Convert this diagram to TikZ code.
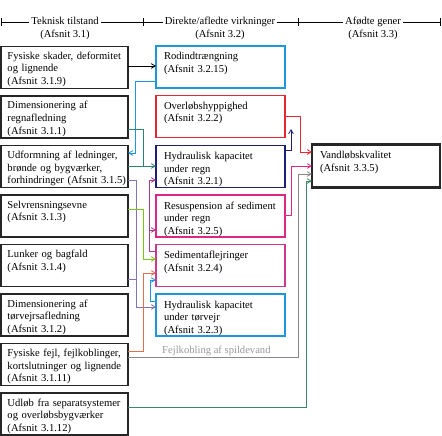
\documentclass[tikz,border=0pt]{standalone}
\usepackage{fontspec}
\setmainfont{Liberation Serif}
\usepackage{xcolor}
\usepackage{tikz}
\usetikzlibrary{arrows}

\definecolor{rodblue}{RGB}{30,150,220}
\definecolor{ovlred}{RGB}{230,40,50}
\definecolor{hydnavy}{RGB}{30,30,120}
\definecolor{respink}{RGB}{220,40,130}
\definecolor{sedpink}{RGB}{205,55,140}
\definecolor{sedpurple}{RGB}{170,60,140}
\definecolor{udfteal}{RGB}{45,130,110}
\definecolor{udlteal}{RGB}{60,135,105}
\definecolor{selvgreen}{RGB}{120,200,20}
\definecolor{fejlorange}{RGB}{225,110,80}
\definecolor{fejlgray}{RGB}{135,135,135}
\definecolor{lunkpurple}{RGB}{135,115,180}

\tikzset{
  tbox/.style={draw=black!85, line width=1.2pt, anchor=north west, outer sep=0pt,
    text width=114, inner xsep=6.5, inner ysep=4, align=left, text height=9, text depth=25},
  vkbox/.style={tbox, line width=1.2pt, text width=113, inner xsep=8, inner ysep=5,
    text height=9, text depth=23},
  head/.style={fill=white, align=center, anchor=base, inner xsep=2, inner ysep=1},
}

\begin{document}
\begin{tikzpicture}[x=1pt, y=-1pt, font=\fontsize{10.6}{12.5}\selectfont, >=angle 60]
		\useasboundingbox (0,0) rectangle (442,436);
		%
		\draw[line width=.6pt] (1,22) -- (440,22);
		\foreach \x in {1,143,298,440} \draw[line width=.6pt] (\x,18) -- (\x,26);
		\node[head] (H1) at (65,37.5) {Teknisk tilstand\\(Afsnit 3.1)};
		\node[head] (H2) at (220,37.5) {Direkte/afledte virkninger\\(Afsnit 3.2)};
		\node[head] (H3) at (373,37.5) {Afødte gener\\(Afsnit 3.3)};
		%
		\node[tbox] (T1) at (1,46.5) {Fysiske skader, deformitet\\og lignende\\(Afsnit 3.1.9)};
		\node[tbox] (T2) at (1,96) {Dimensionering af\\regnafledning\\(Afsnit 3.1.1)};
		\node[tbox] (T3) at (1,145.5) {Udformning af ledninger,\\brønde og bygværker,\\\mbox{forhindringer (Afsnit 3.1.5)}};
		\node[tbox] (T4) at (1,195) {Selvrensningsevne\\(Afsnit 3.1.3)};
		\node[tbox] (T5) at (1,244.5) {Lunker og bagfald\\(Afsnit 3.1.4)};
		\node[tbox] (T6) at (1,294) {Dimensionering af\\tørvejrsafledning\\(Afsnit 3.1.2)};
		\node[tbox] (T7) at (1,343.5) {Fysiske fejl, fejlkoblinger,\\kortslutninger og lignende\\(Afsnit 3.1.11)};
		\node[tbox] (T8) at (1,393) {Udløb fra separatsystemer\\og overløbsbygværker\\(Afsnit 3.1.12)};
		%
		\node[vkbox, draw=rodblue] (V1) at (156,46) {Rodindtrængning\\(Afsnit 3.2.15)};
		\node[vkbox, draw=ovlred] (V2) at (156,95.5) {Overløbshyppighed\\(Afsnit 3.2.2)};
		\node[vkbox, draw=hydnavy] (V3) at (156,145.5) {Hydraulisk kapacitet\\under regn\\(Afsnit 3.2.1)};
		\node[vkbox, draw=respink] (V4) at (156,195) {Resuspension af sediment\\under regn\\(Afsnit 3.2.5)};
		\node[vkbox, draw=sedpink] (V5) at (156,244.5) {Sedimentaflejringer\\(Afsnit 3.2.4)};
		\node[vkbox, draw=rodblue] (V6) at (156,294) {Hydraulisk kapacitet\\under tørvejr\\(Afsnit 3.2.3)};
		%
		\node[tbox, line width=2.5pt, text width=112, inner xsep=8, inner ysep=6,
		  text height=8, text depth=23] (G) at (312,144.5) {Vandløbskvalitet\\(Afsnit 3.3.5)};
		%
		\coordinate (V2a) at (291,129);
		\coordinate (S1) at (149,230);
		%
		\begin{scope}[line width=.8pt]
		\draw[->] (T1.east |- 0,66) -- (V1.west |- 0,66);
		\draw[->, rodblue] (V1.west |- 0,81) -| (135,153) -- (T3.east |- 0,153);
		\draw[->, udfteal] (T2.east |- 0,129) -| (143,166) -- (V3.west |- 0,166);
		\draw[udfteal] (T3.east |- 0,166) -- ++(15,0);
		\draw[->, lunkpurple] (T3.east |- 0,180) -| (136,307) -- (V6.west |- 0,307);
		\draw[lunkpurple] (T5.east |- 0,279) -- ++(8,0);
		\draw[->, selvgreen] (T4.east |- 0,209) -| (143,259) -- (V5.west |- 0,259);
		\draw[->, fejlorange] (T7.east |- 0,351) -| (143,273) -- (V5.west |- 0,273);
		\draw[->, sedpurple] (V5.west |- 0,251) -| (149,180) -- (V3.west |- 0,180);
		\draw[->, sedpurple] (S1) -- (V4.west |- 0,230);
		\draw[->, rodblue] (V6.west |- 0,301) -| (150,280) -- (V5.west |- 0,280);
		\draw[->, hydnavy] (V3.east |- 0,150) -| (V2a);
		\draw[->, ovlred] (V2.east |- 0,116) -| (300,152) -- (G.west |- 0,152);
		\draw[->, respink] (V4.east |- 0,215) -| (291,166) -- (G.west |- 0,166);
		\draw[->, fejlgray] (T7.east |- 0,357) -- node[above, inner sep=1pt, pos=.52, text=black!40]
		  {Fejlkobling af spildevand} (298,357) |- (G.west |- 0,174);
		\draw[->, udlteal] (T8.east |- 0,407) -| (306,181) -- (G.west |- 0,181);
		\end{scope}
\end{tikzpicture}
\end{document}
